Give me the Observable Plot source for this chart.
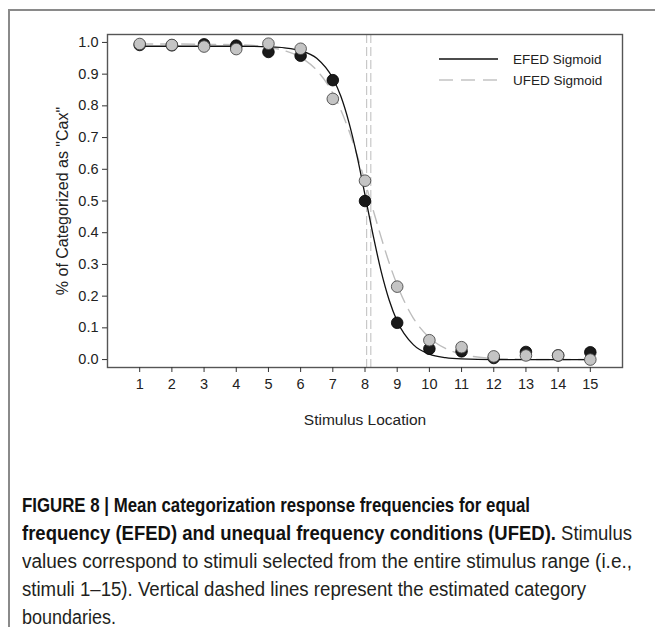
<!DOCTYPE html>
<html>
<head>
<meta charset="utf-8">
<script src="https://cdn.jsdelivr.net/npm/d3@7"></script>
<script src="https://cdn.jsdelivr.net/npm/@observablehq/plot@0.6"></script>
<style>
  html, body { margin: 0; padding: 0; background: #fff; }
  #wrap { position: relative; width: 655px; height: 627px; overflow: hidden; background: #fff; }
  #border { position: absolute; left: 8px; top: 9px; width: 700px; height: 700px;
            border-left: 2px solid #8a8a8a; border-top: 2px solid #8a8a8a; box-sizing: border-box; }
  #chart { position: absolute; left: 0; top: 0; }
  #legend { position: absolute; left: 0; top: 0; }
  #caption { position: absolute; left: 22px; top: 491px; width: 640px;
             font-family: "Liberation Sans", Arial, sans-serif;
             font-size: 19.5px; line-height: 28px; color: #231f20; }
  #caption b { color: #111; }
  .ln { white-space: nowrap; height: 28px; }
  .ln span.inner { display: inline-block; transform-origin: 0 50%; }
</style>
</head>
<body>
<div id="wrap">
  <div id="border"></div>
  <div id="chart"></div>
  <svg id="legend" width="655" height="120"></svg>
  <div id="caption"></div>
</div>
<script>
// Observed points
const stimulus = [1, 2, 3, 4, 5, 6, 7, 8, 9, 10, 11, 12, 13, 14, 15];
const efedObserved = [0.992, 0.991, 0.994, 0.990, 0.970, 0.958, 0.881, 0.500, 0.116, 0.034, 0.026, 0.005, 0.024, 0.013, 0.023];
const ufedObserved = [0.995, 0.992, 0.987, 0.979, 0.996, 0.980, 0.822, 0.564, 0.230, 0.061, 0.039, 0.010, 0.013, 0.013, 0.000];

// Fitted sigmoid curves at these stimulus positions
const curveX = [1, 2, 3, 4, 5, 5.5, 6, 6.5, 7, 7.25, 7.5, 7.75, 8, 8.25, 8.5, 8.75, 9, 9.5, 10, 10.5, 11, 12, 13, 14, 15];
const efedCurve = [0.988, 0.988, 0.988, 0.988, 0.986, 0.983, 0.974, 0.950, 0.887, 0.830, 0.748, 0.643, 0.519, 0.393, 0.279, 0.188, 0.121, 0.047, 0.017, 0.006, 0.002, 0.000, 0.000, 0.000, 0.000];
const ufedCurve = [0.995, 0.995, 0.994, 0.993, 0.985, 0.974, 0.953, 0.912, 0.840, 0.787, 0.722, 0.646, 0.561, 0.473, 0.386, 0.305, 0.235, 0.131, 0.069, 0.035, 0.017, 0.004, 0.001, 0.000, 0.000];

// Estimated category boundaries (EFED, UFED)
const boundaries = [8.05, 8.18];

const xTicks = [1, 2, 3, 4, 5, 6, 7, 8, 9, 10, 11, 12, 13, 14, 15];
const yTicks = [0, 0.1, 0.2, 0.3, 0.4, 0.5, 0.6, 0.7, 0.8, 0.9, 1.0];

const seriesNames = ["EFED Sigmoid", "UFED Sigmoid"];
const xLabel = "Stimulus Location";
const yLabel = "% of Categorized as \"Cax\"";

const efedPts = stimulus.map((s, i) => ({x: s, y: efedObserved[i]}));
const ufedPts = stimulus.map((s, i) => ({x: s, y: ufedObserved[i]}));
const efedLine = curveX.map((s, i) => ({x: s, y: efedCurve[i]}));
const ufedLine = curveX.map((s, i) => ({x: s, y: ufedCurve[i]}));

const font = "'Liberation Sans', Arial, sans-serif";

const chart = Plot.plot({
  width: 655,
  height: 450,
  marginLeft: 107,
  marginRight: 33,
  marginTop: 34,
  marginBottom: 83,
  style: {fontFamily: font, fontSize: "14.5px", color: "#222", background: "transparent"},
  x: {domain: [0, 16]},
  y: {domain: [-0.025, 1.025]},
  marks: [
    Plot.ruleX(boundaries, {stroke: "#c8c8c8", strokeWidth: 1.2, strokeDasharray: "9,4"}),
    Plot.line(ufedLine, {x: "x", y: "y", stroke: "#bdbdbd", strokeWidth: 1.4, strokeDasharray: "13,8", curve: "monotone-x"}),
    Plot.line(efedLine, {x: "x", y: "y", stroke: "#111", strokeWidth: 1.3, curve: "monotone-x"}),
    Plot.dot(efedPts, {x: "x", y: "y", r: 5.8, fill: "#1a1a1a", stroke: "#000", strokeWidth: 0.8}),
    Plot.dot(ufedPts, {x: "x", y: "y", r: 5.8, fill: "#c4c4c4", stroke: "#4a4a4a", strokeWidth: 0.9}),
    Plot.frame({stroke: "#555", strokeWidth: 1.4}),
    Plot.axisX({ticks: xTicks, tickFormat: d3.format("d"), tickSize: 5, tickPadding: 6, fontSize: 14.5, label: null, stroke: "#333"}),
    Plot.axisY({ticks: yTicks, tickFormat: d3.format(".1f"), tickSize: 5, tickPadding: 4, fontSize: 14.5, label: null, stroke: "#333"}),
    Plot.text([xLabel], {frameAnchor: "bottom", dy: 57, fontSize: 15.5, fill: "#222"}),
    Plot.text([yLabel], {frameAnchor: "left", textAnchor: "middle", dx: -45, rotate: -90, fontSize: 16, fill: "#222"})
  ]
});
document.getElementById("chart").appendChild(chart);

// Legend
const lg = d3.select("#legend");
const rows = [
  {name: seriesNames[0], stroke: "#111", dash: null, y: 59},
  {name: seriesNames[1], stroke: "#c4c4c4", dash: "14,8", y: 80}
];
rows.forEach(r => {
  lg.append("line").attr("x1", 439).attr("x2", 498).attr("y1", r.y).attr("y2", r.y)
    .attr("stroke", r.stroke).attr("stroke-width", 1.3).attr("stroke-dasharray", r.dash);
  lg.append("text").attr("x", 513).attr("y", r.y).attr("dy", "0.35em")
    .attr("font-family", font).attr("font-size", 13.5)
    .attr("fill", "#222").text(r.name);
});

// Caption (condensed look: each line is horizontally fitted to the reference width)
const captionLines = [
  "<b>FIGURE 8 | Mean categorization response frequencies for equal</b>",
  "<b>frequency (EFED) and unequal frequency conditions (UFED).</b> Stimulus",
  "values correspond to stimuli selected from the entire stimulus range (i.e.,",
  "stimuli 1\u201315). Vertical dashed lines represent the estimated category",
  "boundaries."
];
const captionWidths = [508, 610, 610, 564, 94];
const cap = document.getElementById("caption");
captionLines.forEach((l, i) => {
  const div = document.createElement("div");
  div.className = "ln";
  const span = document.createElement("span");
  span.className = "inner";
  span.innerHTML = l;
  div.appendChild(span);
  cap.appendChild(div);
  const w = span.getBoundingClientRect().width;
  if (w > 0) span.style.transform = `scaleX(${captionWidths[i] / w})`;
});
</script>
</body>
</html>
